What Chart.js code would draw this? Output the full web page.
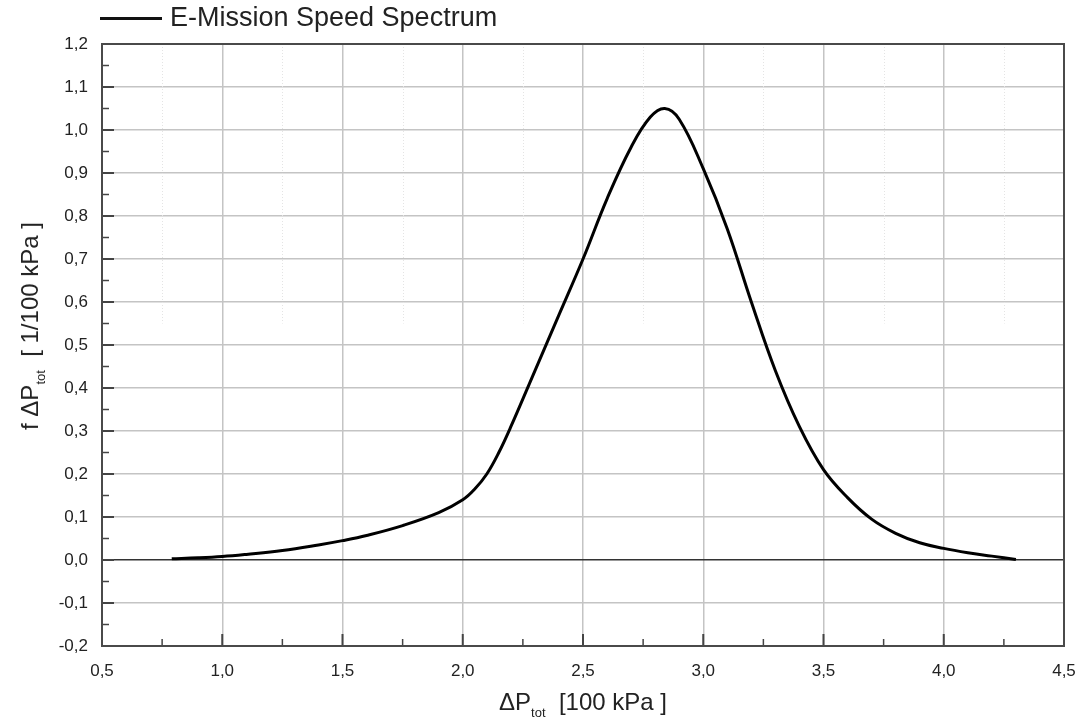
<!DOCTYPE html>
<html>
<head>
<meta charset="utf-8">
<script src="https://cdn.jsdelivr.net/npm/chart.js@4.4.1/dist/chart.umd.min.js"></script>
<style>
  html, body { margin:0; padding:0; background:#fff; }
  #wrap { position:relative; width:1078px; height:724px; font-family:"Liberation Sans", Arial, sans-serif; color:#222; }
  canvas { position:absolute; left:0; top:0; }
  .lbl { position:absolute; white-space:nowrap; line-height:1; }
  #legLine { position:absolute; left:100px; top:17px; width:62px; height:3px; background:#111; }
  #legText { left:170px; top:4px; font-size:27px; }
  #xTitle { left:583px; top:690px; font-size:24px; transform:translateX(-50%); }
  #yTitle { left:30px; top:326px; font-size:24px; transform:translate(-50%,-50%) rotate(-90deg); }
  sub { font-size:13px; vertical-align:-7px; line-height:0; }
</style>
</head>
<body>
<div id="wrap">
  <canvas id="c" width="1078" height="724"></canvas>
  <div id="legLine"></div>
  <div class="lbl" id="legText">E-Mission Speed Spectrum</div>
  <div class="lbl" id="xTitle">ΔP<sub>tot</sub>&nbsp;&nbsp;[100 kPa ]</div>
  <div class="lbl" id="yTitle">f ΔP<sub>tot</sub>&nbsp;&nbsp;[ 1/100 kPa ]</div>
</div>
<script>
// ---- data ----
const seriesName = "E-Mission Speed Spectrum";
const pressure = [0.79, 0.9, 1.0, 1.1, 1.25, 1.4, 1.5, 1.6, 1.75, 1.9, 2.0, 2.05, 2.1, 2.15, 2.2, 2.3, 2.4, 2.5, 2.6, 2.7, 2.78, 2.84, 2.9, 3.0, 3.1, 3.2, 3.3, 3.4, 3.5, 3.6, 3.7, 3.8, 3.9, 4.0, 4.1, 4.2, 4.3];
const frequency = [0.003, 0.005, 0.008, 0.013, 0.022, 0.035, 0.045, 0.057, 0.08, 0.11, 0.14, 0.165, 0.2, 0.25, 0.31, 0.44, 0.57, 0.70, 0.84, 0.96, 1.03, 1.05, 1.025, 0.91, 0.77, 0.60, 0.44, 0.31, 0.21, 0.145, 0.095, 0.062, 0.04, 0.027, 0.017, 0.009, 0.001];
const xTicks = [0.5, 1.0, 1.5, 2.0, 2.5, 3.0, 3.5, 4.0, 4.5];
const yTicks = [-0.2, -0.1, 0.0, 0.1, 0.2, 0.3, 0.4, 0.5, 0.6, 0.7, 0.8, 0.9, 1.0, 1.1, 1.2];

const fmt = v => (Math.abs(v) < 1e-9 ? 0 : v).toFixed(1).replace('.', ',');

const framePlugin = {
  id: 'frame',
  beforeDatasetsDraw(chart) {
    const { ctx, chartArea: a, scales: { x, y } } = chart;
    ctx.save();
    ctx.strokeStyle = '#e4e4e4';
    ctx.lineWidth = 1;
    ctx.setLineDash([1, 2]);
    const yEnd = y.getPixelForValue(0.55);
    for (let i = 0; i < xTicks.length - 1; i++) {
      const v = (xTicks[i] + xTicks[i + 1]) / 2;
      const px = Math.round(x.getPixelForValue(v)) + 0.5;
      ctx.beginPath(); ctx.moveTo(px, a.top); ctx.lineTo(px, yEnd); ctx.stroke();
    }
    ctx.restore();
  },
  afterDraw(chart) {
    const { ctx, chartArea: a, scales: { x, y } } = chart;
    ctx.save();
    ctx.strokeStyle = '#444';
    for (let i = 0; i < yTicks.length; i++) {
      const py = y.getPixelForValue(yTicks[i]);
      ctx.lineWidth = 2;
      ctx.beginPath(); ctx.moveTo(a.left, py); ctx.lineTo(a.left + 12, py); ctx.stroke();
      if (i < yTicks.length - 1) {
        const pm = y.getPixelForValue((yTicks[i] + yTicks[i + 1]) / 2);
        ctx.lineWidth = 1.5;
        ctx.beginPath(); ctx.moveTo(a.left, pm); ctx.lineTo(a.left + 7, pm); ctx.stroke();
      }
    }
    for (let i = 0; i < xTicks.length; i++) {
      const px = x.getPixelForValue(xTicks[i]);
      ctx.lineWidth = 2;
      ctx.beginPath(); ctx.moveTo(px, a.bottom); ctx.lineTo(px, a.bottom - 12); ctx.stroke();
      if (i < xTicks.length - 1) {
        const pm = x.getPixelForValue((xTicks[i] + xTicks[i + 1]) / 2);
        ctx.lineWidth = 1.5;
        ctx.beginPath(); ctx.moveTo(pm, a.bottom); ctx.lineTo(pm, a.bottom - 7); ctx.stroke();
      }
    }
    ctx.lineWidth = 2;
    ctx.strokeStyle = '#4a4a4a';
    ctx.strokeRect(a.left, a.top, a.right - a.left, a.bottom - a.top);
    ctx.restore();
  }
};

new Chart(document.getElementById('c'), {
  type: 'line',
  data: {
    datasets: [{
      label: seriesName,
      data: pressure.map((p, i) => ({ x: p, y: frequency[i] })),
      borderColor: '#000',
      borderWidth: 3,
      pointRadius: 0,
      fill: false,
      tension: 0.4
    }]
  },
  options: {
    responsive: false,
    animation: false,
    layout: { padding: { top: 44, right: 14, left: 0, bottom: 0 } },
    plugins: { legend: { display: false }, tooltip: { enabled: false } },
    scales: {
      x: {
        type: 'linear', min: 0.5, max: 4.5,
        afterBuildTicks: s => { s.ticks = xTicks.map(v => ({ value: v })); },
        afterFit: s => { s.height = 78; s.paddingLeft = 0; s.paddingRight = 0; },
        grid: { color: '#c4c4c4', lineWidth: 1.5, drawTicks: false },
        border: { display: false },
        ticks: { callback: v => fmt(v), padding: 15, color: '#222', font: { family: 'Liberation Sans', size: 17 }, maxRotation: 0 }
      },
      y: {
        type: 'linear', min: -0.2, max: 1.2,
        afterBuildTicks: s => { s.ticks = yTicks.map(v => ({ value: v })); },
        afterFit: s => { s.width = 102; s.paddingTop = 0; s.paddingBottom = 0; },
        grid: {
          color: c => (c.tick && Math.abs(c.tick.value) < 1e-9) ? '#333' : '#c4c4c4',
          lineWidth: 1.5,
          drawTicks: false
        },
        border: { display: false },
        ticks: { callback: v => fmt(v), padding: 14, color: '#222', font: { family: 'Liberation Sans', size: 17 } }
      }
    }
  },
  plugins: [framePlugin]
});
</script>
</body>
</html>
